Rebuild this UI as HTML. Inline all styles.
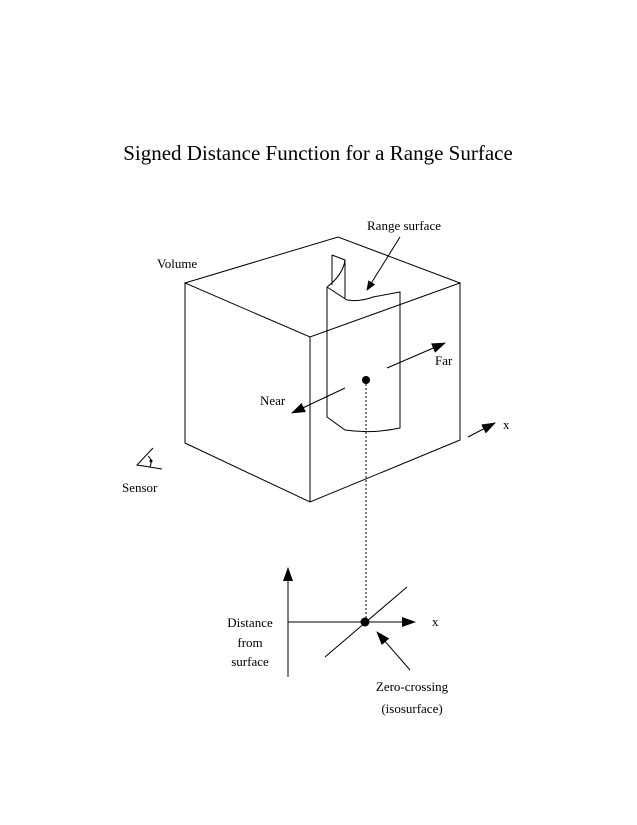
<!DOCTYPE html>
<html><head><style>body{margin:0;background:#fff}svg{display:block}text{font-family:"Liberation Serif",serif;fill:#000}</style></head>
<body>
<svg width="637" height="825" viewBox="0 0 637 825" xmlns="http://www.w3.org/2000/svg">
<defs><marker id="a" markerWidth="10" markerHeight="8" refX="9" refY="4" orient="auto" markerUnits="userSpaceOnUse"><path d="M0,0L10,4L0,8Z" fill="#000"/></marker>
<marker id="b" markerWidth="14" markerHeight="10" refX="13" refY="5" orient="auto" markerUnits="userSpaceOnUse"><path d="M0,0L14,5L0,10Z" fill="#000"/></marker></defs>
<text x="318" y="160" font-size="21" text-anchor="middle">Signed Distance Function for a Range Surface</text>
<g stroke="#000" stroke-width="1" fill="none">
<path d="M185,283L338,237L460,283L310,337Z"/>
<path d="M185,283L185,443L310,502L460,440L460,283M310,337L310,502"/>
<path d="M327,287L327,417L345,430Q372,434 400,428L400,292L373,297Q360,302 347,300L327,287"/>
<path d="M332,255L332,285M332,255L345,260L345,298M345,260Q343,275 327,287"/>
<line x1="400" y1="237" x2="367" y2="290" marker-end="url(#a)"/>
<line x1="387" y1="368" x2="445" y2="343" marker-end="url(#b)"/>
<line x1="345" y1="388" x2="292" y2="413" marker-end="url(#b)"/>
<line x1="468" y1="437" x2="495" y2="423" marker-end="url(#b)"/>
<line x1="366" y1="380" x2="366" y2="620" stroke-dasharray="2,2"/>
<line x1="288" y1="677" x2="288" y2="568" marker-end="url(#b)"/>
<line x1="288" y1="622" x2="415" y2="622" marker-end="url(#b)"/>
<line x1="325" y1="657" x2="407" y2="587"/>
<line x1="410" y1="670" x2="377" y2="632" marker-end="url(#b)"/>
<path d="M153,448L137,465L162,469"/>
<path d="M148,456Q153,460 150,467"/>
</g>
<circle cx="366" cy="380" r="4" fill="#000"/>
<circle cx="365" cy="622" r="4.5" fill="#000"/>
<circle cx="151" cy="461" r="1.5" fill="#000"/>
<g font-size="13">
<text x="157" y="268">Volume</text>
<text x="367" y="230">Range surface</text>
<text x="435" y="365">Far</text>
<text x="260" y="405">Near</text>
<text x="503" y="429">x</text>
<text x="122" y="492">Sensor</text>
<text x="432" y="626">x</text>
<text x="250" y="627" text-anchor="middle">Distance</text>
<text x="250" y="647" text-anchor="middle">from</text>
<text x="250" y="666" text-anchor="middle">surface</text>
<text x="412" y="691" text-anchor="middle">Zero-crossing</text>
<text x="412" y="713" text-anchor="middle">(isosurface)</text>
</g>
</svg>
</body></html>
